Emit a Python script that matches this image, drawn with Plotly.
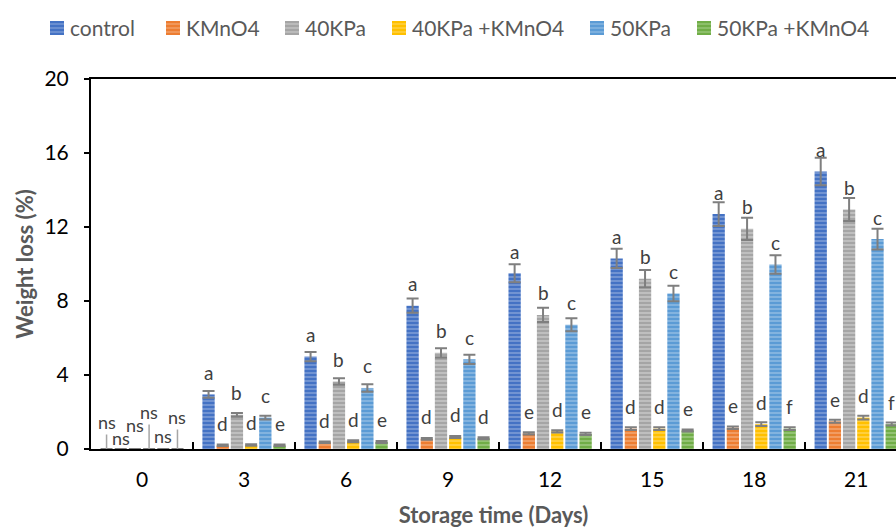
import plotly.graph_objects as go

days = ["0", "3", "6", "9", "12", "15", "18", "21"]
series_names = ["control", "KMnO4", "40KPa", "40KPa +KMnO4", "50KPa", "50KPa +KMnO4"]

control = [0, 2.95, 5.0, 7.75, 9.5, 10.3, 12.7, 15.0]
control_err = [0, 0.18, 0.25, 0.38, 0.48, 0.52, 0.64, 0.74]
kmno4 = [0, 0.2, 0.37, 0.55, 0.85, 1.1, 1.15, 1.5]
kmno4_err = [0, 0.04, 0.04, 0.05, 0.06, 0.07, 0.07, 0.08]
kpa40 = [0, 1.85, 3.65, 5.2, 7.25, 9.2, 11.9, 12.95]
kpa40_err = [0, 0.1, 0.18, 0.25, 0.38, 0.47, 0.6, 0.62]
kpa40_k = [0, 0.22, 0.42, 0.65, 0.95, 1.1, 1.35, 1.7]
kpa40_k_err = [0, 0.04, 0.05, 0.05, 0.06, 0.07, 0.1, 0.1]
kpa50 = [0, 1.7, 3.3, 4.85, 6.72, 8.4, 9.97, 11.35]
kpa50_err = [0, 0.1, 0.2, 0.25, 0.35, 0.42, 0.5, 0.56]
kpa50_k = [0, 0.2, 0.38, 0.58, 0.82, 1.0, 1.1, 1.35]
kpa50_k_err = [0, 0.04, 0.05, 0.05, 0.06, 0.06, 0.07, 0.08]

letters = [
    ["ns", "a", "a", "a", "a", "a", "a", "a"],
    ["ns", "d", "d", "d", "e", "d", "e", "e"],
    ["ns", "b", "b", "b", "b", "b", "b", "b"],
    ["ns", "d", "d", "d", "d", "d", "d", "d"],
    ["ns", "c", "c", "c", "c", "c", "c", "c"],
    ["ns", "e", "e", "d", "e", "e", "f", "f"],
]

values = [control, kmno4, kpa40, kpa40_k, kpa50, kpa50_k]
errors = [control_err, kmno4_err, kpa40_err, kpa40_k_err, kpa50_err, kpa50_k_err]
colors = ["#4472C4", "#ED7D31", "#A5A5A5", "#FFC000", "#5B9BD5", "#70AD47"]
stripes = ["#8FAADC", "#F4B183", "#D0D0D0", "#FFD966", "#9DC3E6", "#A9D18E"]

FONT = "Lato, 'Open Sans', sans-serif"
W, H = 896, 528
ML, MR, MT, MB = 91, 0, 79, 79
PW, PH = W - ML - MR, H - MT - MB


def px2paper_x(px):
    return (px - ML) / PW


def px2paper_y(py):
    return (H - MB - py) / PH


fig = go.Figure()
for name, v, e, c, s in zip(series_names, values, errors, colors, stripes):
    err = [None if i == 0 else x for i, x in enumerate(e)]
    fig.add_trace(go.Bar(
        x=days, y=v, name=name, showlegend=False,
        marker=dict(color=c, line=dict(width=0),
                    pattern=dict(shape="-", fgcolor=s, bgcolor=c, size=4,
                                 solidity=0.3, fillmode="replace")),
        error_y=dict(type="data", array=err, visible=True, color="#7F7F7F",
                     thickness=2, width=6),
    ))

pitch = 0.139
annotations = []
shapes = []
# day 0 "ns" label offsets (pixels above baseline) and leader lines
ns_shift = [27, 11, 24, 37, 13, 32]
ns_leader = [True, False, False, True, False, True]
for j in range(6):
    xj = 0 + (j - 2.5) * pitch
    if ns_leader[j]:
        annotations.append(dict(x=xj, y=0, xref="x", yref="y", text=letters[j][0],
                                showarrow=True, arrowhead=0, arrowwidth=1.5,
                                arrowcolor="#A6A6A6", ax=0, ay=-ns_shift[j], standoff=0,
                                font=dict(family=FONT, size=18, color="#404040")))
    else:
        annotations.append(dict(x=xj, y=0, xref="x", yref="y", text=letters[j][0],
                                showarrow=False, yanchor="middle", yshift=ns_shift[j],
                                font=dict(family=FONT, size=18, color="#404040")))
for j in range(6):
    for i in range(1, 8):
        annotations.append(dict(x=i + (j - 2.5) * pitch, y=values[j][i], xref="x", yref="y",
                                text=letters[j][i], showarrow=False, yanchor="middle",
                                yshift=22, font=dict(family=FONT, size=19, color="#404040")))

# legend (drawn manually to match the compact Excel-style layout)
legend_left_px = [50, 166, 285, 392, 590, 697]
for name, c, s, lx in zip(series_names, colors, stripes, legend_left_px):
    shapes.append(dict(type="rect", xref="paper", yref="paper",
                       x0=px2paper_x(lx), x1=px2paper_x(lx + 14),
                       y0=px2paper_y(35), y1=px2paper_y(21),
                       fillcolor=c, line=dict(width=0)))
    for sy in (24, 28, 32):
        shapes.append(dict(type="line", xref="paper", yref="paper",
                           x0=px2paper_x(lx), x1=px2paper_x(lx + 14),
                           y0=px2paper_y(sy), y1=px2paper_y(sy),
                           line=dict(color=s, width=1)))
    annotations.append(dict(x=px2paper_x(lx + 18), y=px2paper_y(27), xref="paper", yref="paper",
                            text=name, showarrow=False, xanchor="left", yanchor="middle",
                            font=dict(family=FONT, size=21, color="#595959")))

fig.update_layout(
    width=W, height=H,
    margin=dict(l=ML, r=MR, t=MT, b=MB),
    paper_bgcolor="white", plot_bgcolor="white",
    barmode="group", bargap=0.165, bargroupgap=0.134,
    font=dict(family=FONT, color="#000000"),
    showlegend=False,
    annotations=annotations,
    shapes=shapes,
    xaxis=dict(type="category", range=[-0.5, 7.39], showline=True, linecolor="black",
               linewidth=2, mirror=True, ticks="inside", tickson="boundaries", ticklen=7,
               tickwidth=1.5, tickcolor="black", showgrid=False,
               tickfont=dict(family=FONT, size=21, color="#000000"),
               ticklabelstandoff=11,
               title=dict(text="<b>Storage time (Days)</b>", standoff=21,
                          font=dict(family=FONT, size=22, color="#595959"))),
    yaxis=dict(range=[0, 20], dtick=4, showline=True, linecolor="black", linewidth=2,
               ticks="outside", ticklen=5, tickwidth=1.5, tickcolor="black",
               showgrid=False, zeroline=False,
               tickfont=dict(family=FONT, size=21, color="#000000"),
               ticklabelstandoff=11,
               title=dict(text="<b>Weight loss (%)</b>", standoff=5,
                          font=dict(family=FONT, size=22, color="#595959"))),
)

fig.write_html("out.html", config={"displayModeBar": False},
               post_script="document.body.style.margin='0';document.body.style.overflow='hidden';")
